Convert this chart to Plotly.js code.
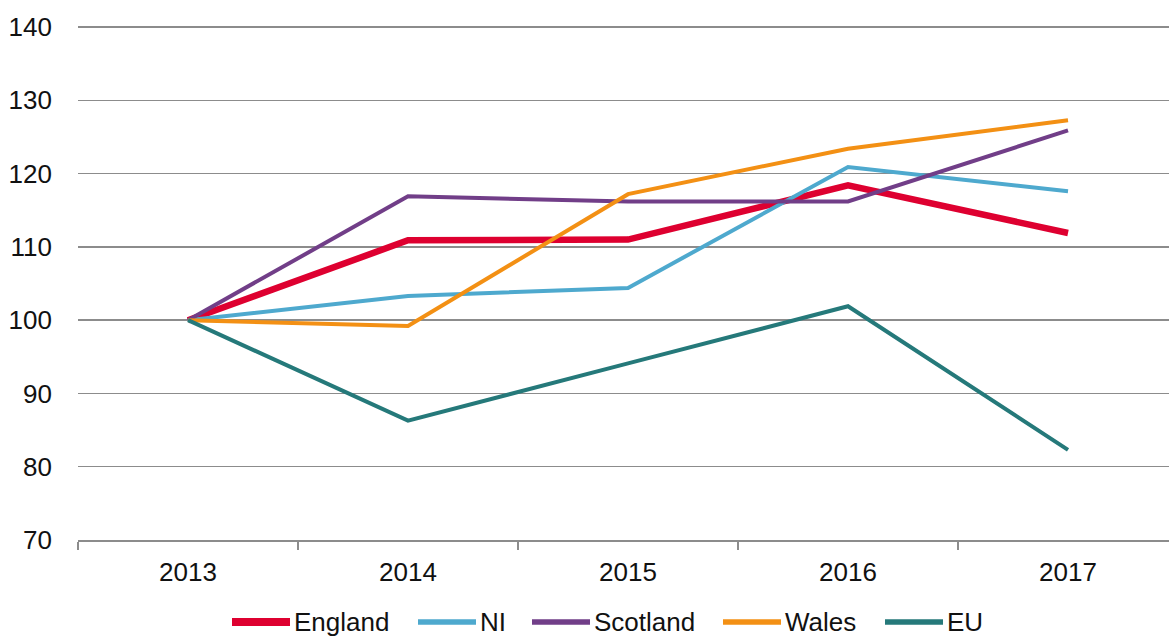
<!DOCTYPE html>
<html>
<head>
<meta charset="utf-8">
<script src="https://cdn.plot.ly/plotly-3.0.1.min.js"></script>
<style>html,body{margin:0;padding:0;background:#fff;}#chart{width:1169px;height:639px;}</style>
</head>
<body>
<div id="chart"></div>
<script>
var years = ['2013', '2014', '2015', '2016', '2017'];
var england = [100, 110.9, 111.0, 118.4, 111.9];
var ni = [100, 103.3, 104.4, 120.9, 117.6];
var scotland = [100, 116.9, 116.2, 116.2, 125.9];
var wales = [100, 99.2, 117.2, 123.4, 127.3];
var eu = [100, 86.3, 94.1, 101.9, 82.3];

var seriesNames = ['England', 'NI', 'Scotland', 'Wales', 'EU'];
var seriesValues = [england, ni, scotland, wales, eu];
var colors = ['#DE0030', '#4EA9CE', '#713E88', '#F39014', '#25797A'];
var widths = [6.5, 4, 4, 4, 4];
var legendWidths = [8, 5.5, 5.5, 5.5, 5.5];

var W = 1169, H = 639;
var M = {l: 78, r: 0, t: 26, b: 99};
var plotW = W - M.l - M.r, plotH = H - M.t - M.b;

var traces = seriesNames.map(function (n, i) {
  return {
    x: years, y: seriesValues[i], name: n, type: 'scatter', mode: 'lines',
    line: {color: colors[i], width: widths[i]}, showlegend: false
  };
});

// custom legend (longer, thicker line keys like the original)
var legendStartPx = [232, 418, 532, 723, 885];
var legendKeyLen = 58;
var legendYpx = 622;
var shapes = [], annotations = [];
function px2x(px) { return (px - M.l) / plotW; }
var ly = (H - M.b - legendYpx) / plotH;
seriesNames.forEach(function (n, i) {
  shapes.push({type: 'line', xref: 'paper', yref: 'paper',
    x0: px2x(legendStartPx[i]), x1: px2x(legendStartPx[i] + legendKeyLen), y0: ly, y1: ly,
    line: {color: colors[i], width: legendWidths[i]}});
  annotations.push({xref: 'paper', yref: 'paper', x: px2x(legendStartPx[i] + legendKeyLen + 2),
    y: ly, xanchor: 'left', yanchor: 'middle', showarrow: false, text: n,
    font: {size: 26, color: '#111'}});
});

var layout = {
  width: W, height: H,
  margin: {l: M.l, r: M.r, t: M.t, b: M.b, autoexpand: false},
  paper_bgcolor: '#fff', plot_bgcolor: '#fff',
  font: {family: 'Liberation Sans, Arial, sans-serif', size: 26, color: '#111'},
  showlegend: false,
  shapes: shapes,
  annotations: annotations,
  xaxis: {type: 'category', range: [-0.5, 4.459], tickson: 'boundaries',
          ticks: 'outside', ticklen: 8, tickcolor: '#8c8c8c', tickwidth: 1.5,
          showline: true, linecolor: '#8c8c8c', linewidth: 1.5, showgrid: false,
          ticklabelstandoff: 8,
          tickfont: {size: 26}, fixedrange: true},
  yaxis: {range: [70, 140.15], tickvals: [70, 80, 90, 100, 110, 120, 130, 140],
          showgrid: true, gridcolor: '#8c8c8c', gridwidth: 1.5,
          zeroline: false, showline: false, ticks: '', ticklabelstandoff: 25,
          tickfont: {size: 26}, fixedrange: true}
};

Plotly.newPlot('chart', traces, layout, {staticPlot: true});
</script>
</body>
</html>
